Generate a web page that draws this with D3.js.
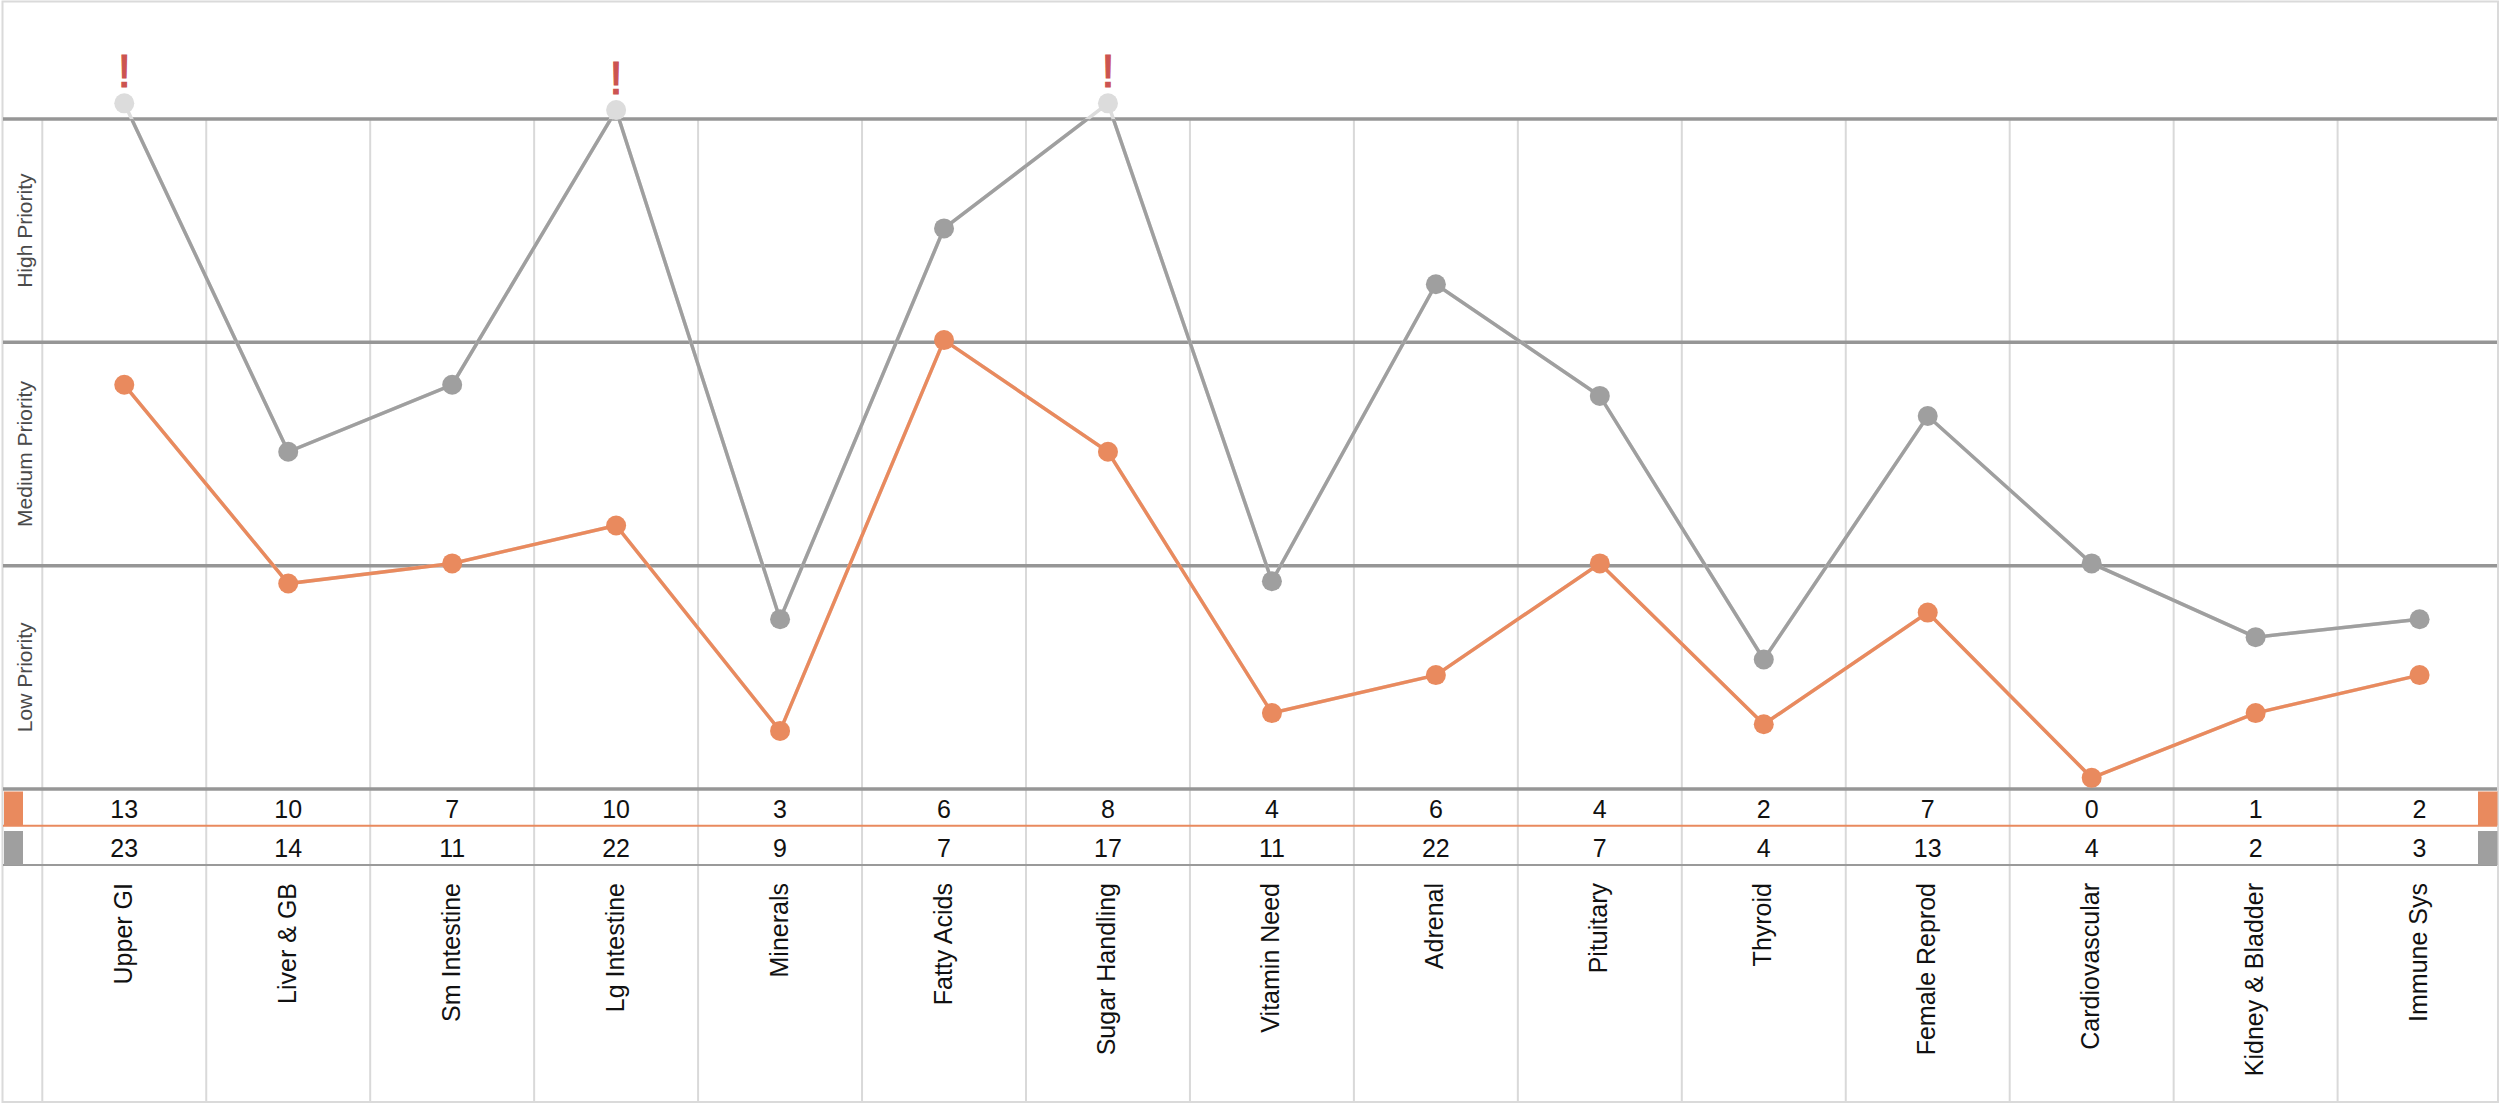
<!DOCTYPE html>
<html>
<head>
<meta charset="utf-8">
<script src="https://cdn.jsdelivr.net/npm/d3@7"></script>
<style>
  html, body { margin: 0; padding: 0; background: #fff; }
  svg { display: block; }
  text { font-family: "Liberation Sans", Arial, Helvetica, sans-serif; }
</style>
</head>
<body>
<svg id="chart" width="2500" height="1106"></svg>
<script>
// ---- data ----
const categories = ["Upper GI", "Liver & GB", "Sm Intestine", "Lg Intestine", "Minerals",
  "Fatty Acids", "Sugar Handling", "Vitamin Need", "Adrenal", "Pituitary", "Thyroid",
  "Female Reprod", "Cardiovascular", "Kidney & Bladder", "Immune Sys"];
// symptom counts shown in the table rows
const orangeCounts = [13, 10, 7, 10, 3, 6, 8, 4, 6, 4, 2, 7, 0, 1, 2];
const grayCounts   = [23, 14, 11, 22, 9, 7, 17, 11, 22, 7, 4, 13, 4, 2, 3];
// plotted priority level (0 = bottom, 1 = low/medium, 2 = medium/high, 3 = top)
const orangeLevels = [1.81, 0.92, 1.01, 1.18, 0.26, 2.01, 1.51, 0.34, 0.51, 1.01, 0.29, 0.79, 0.05, 0.34, 0.51];
const grayLevels   = [3.07, 1.51, 1.81, 3.04, 0.76, 2.51, 3.07, 0.93, 2.26, 1.76, 0.58, 1.67, 1.01, 0.68, 0.76];
const levelTicks = [0, 1, 2, 3];
const bandLabels = ["Low Priority", "Medium Priority", "High Priority"];
const levelMax = 3;

// ---- styles ----
const ORANGE = "#e98a5e";
const GRAY = "#9f9f9f";
const OVER = "#dcdcdc";
const GRID = "#969696";
const VGRID = "#d9d9d9";

const svg = d3.select("#chart");
const W = 2500, H = 1106;

const x = d3.scaleBand().domain(categories).range([42.3, 42.3 + 15 * 163.95]).padding(0);
const cx = d => x(d) + x.bandwidth() / 2;
const y = d3.scaleLinear().domain([0, levelMax]).range([789, 119]);

// clip for the plot area
svg.append("defs").append("clipPath").attr("id", "plotClip")
  .append("rect").attr("x", 0).attr("y", y(levelMax)).attr("width", W).attr("height", y(0) - y(levelMax));

// outer border
svg.append("rect").attr("x", 2.5).attr("y", 1.5).attr("width", 2495.5).attr("height", 1100.5)
  .attr("fill", "none").attr("stroke", "#dadada").attr("stroke-width", 2);

// vertical grid lines
svg.append("g").selectAll("line").data(categories).join("line")
  .attr("x1", d => x(d)).attr("x2", d => x(d))
  .attr("y1", y(levelMax)).attr("y2", 1101)
  .attr("stroke", VGRID).attr("stroke-width", 2);

// table
const rowTop1 = 791.5, rowH = 34;
svg.append("line").attr("x1", 3).attr("x2", 2497).attr("y1", 825.8).attr("y2", 825.8)
  .attr("stroke", ORANGE).attr("stroke-width", 2);
svg.append("line").attr("x1", 3).attr("x2", 2497).attr("y1", 865).attr("y2", 865)
  .attr("stroke", "#9a9a9a").attr("stroke-width", 2);
[[rowTop1, ORANGE], [831, GRAY]].forEach(([t, c]) => {
  svg.append("rect").attr("x", 4).attr("y", t).attr("width", 19).attr("height", rowH).attr("fill", c);
  svg.append("rect").attr("x", 2478).attr("y", t).attr("width", 19.5).attr("height", rowH).attr("fill", c);
});
svg.append("g").selectAll("text").data(categories).join("text")
  .attr("x", cx).attr("y", 818.3).attr("text-anchor", "middle")
  .attr("font-size", 25).attr("fill", "#111")
  .text((d, i) => orangeCounts[i]);
svg.append("g").selectAll("text").data(categories).join("text")
  .attr("x", cx).attr("y", 857.3).attr("text-anchor", "middle")
  .attr("font-size", 25).attr("fill", "#111")
  .text((d, i) => grayCounts[i]);

// category labels
svg.append("g").selectAll("text").data(categories).join("text")
  .attr("transform", d => `translate(${cx(d)},883) rotate(-90)`)
  .attr("text-anchor", "end").attr("dy", "0.3em")
  .attr("font-size", 25).attr("fill", "#111")
  .text(d => d);

// horizontal priority lines
svg.append("g").selectAll("line").data(levelTicks).join("line")
  .attr("x1", 3).attr("x2", 2497)
  .attr("y1", d => y(d)).attr("y2", d => y(d))
  .attr("stroke", GRID).attr("stroke-width", 3.5);

// band labels
svg.append("g").selectAll("text").data(bandLabels).join("text")
  .attr("transform", (d, i) => `translate(25,${(y(i) + y(i + 1)) / 2}) rotate(-90)`)
  .attr("text-anchor", "middle").attr("dy", "0.35em")
  .attr("font-size", 21).attr("fill", "#4a4a4a")
  .text(d => d);

// series
function drawSeries(levels, color) {
  const pts = categories.map((c, i) => [cx(c), y(levels[i]), levels[i]]);
  const line = d3.line().x(d => d[0]).y(d => d[1]);
  // faded part outside the plot
  svg.append("path").attr("d", line(pts)).attr("fill", "none")
    .attr("stroke", OVER).attr("stroke-width", 3.5);
  svg.append("path").attr("d", line(pts)).attr("fill", "none")
    .attr("stroke", color).attr("stroke-width", 3.5).attr("clip-path", "url(#plotClip)");
  svg.append("g").selectAll("circle").data(pts).join("circle")
    .attr("cx", d => d[0]).attr("cy", d => d[1]).attr("r", 10)
    .attr("fill", d => d[2] > levelMax ? OVER : color);
  svg.append("g").selectAll("text").data(pts.filter(d => d[2] > levelMax)).join("text")
    .attr("x", d => d[0]).attr("y", d => d[1] - 16.5)
    .attr("text-anchor", "middle").attr("font-size", 47)
    .attr("stroke", "#cc5450").attr("stroke-width", 1.2)
    .attr("fill", "#cc5450").text("!");
}
drawSeries(grayLevels, GRAY);
drawSeries(orangeLevels, ORANGE);
</script>
</body>
</html>
